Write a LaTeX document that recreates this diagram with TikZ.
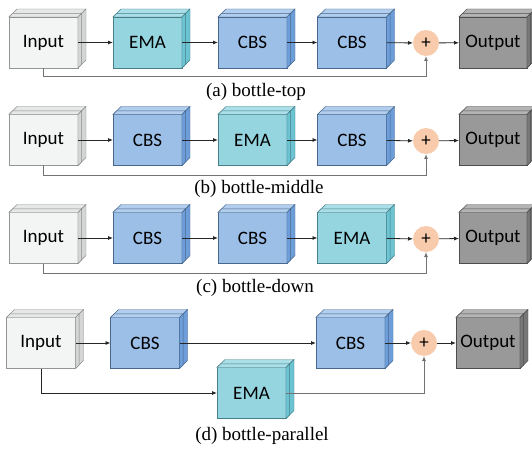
\documentclass[tikz,border=0pt]{standalone}
\usepackage{fontspec}
\setmainfont{Liberation Serif}
\newfontfamily\blkfont{Carlito}
\usetikzlibrary{calc,arrows.meta}

\definecolor{inF}{HTML}{F3F4F4}
\definecolor{inT}{HTML}{E6E8E8}
\definecolor{inS}{HTML}{D4D6D6}
\definecolor{emaF}{HTML}{94D5E0}
\definecolor{emaT}{HTML}{ABDFE8}
\definecolor{emaS}{HTML}{6CC3D1}
\definecolor{cbsF}{HTML}{9CBFE8}
\definecolor{cbsT}{HTML}{B2CEEF}
\definecolor{cbsS}{HTML}{6E9ED9}
\definecolor{outF}{HTML}{999999}
\definecolor{outT}{HTML}{B4B4B4}
\definecolor{outS}{HTML}{777777}
\definecolor{addF}{HTML}{F8CBAD}

% top and right faces of a stacked block (two slices)
\newcommand{\slab}[2]{%
  \foreach \k in {1,0.45}{
    \filldraw[fill=#2T, draw=#2S!65!black, line width=0.4pt]
      (#1.north west) -- ++({8*\k},{-8*\k}) -- ($(#1.north east)+({8*\k},{-8*\k})$)
      -- (#1.north east) -- cycle;
    \filldraw[fill=#2S, draw=#2S!65!black, line width=0.4pt]
      (#1.north east) -- ++({8*\k},{-8*\k}) -- ($(#1.south east)+({8*\k},{-8*\k})$)
      -- (#1.south east) -- cycle;
  }%
}

\begin{document}
\begin{tikzpicture}[x=1pt, y=-1pt,
  blk/.style={draw, minimum width=69, minimum height=51, inner sep=0pt, outer sep=0pt,
              line width=0.4pt, font=\blkfont\fontsize{19}{20}\selectfont},
  inp/.style={blk, fill=inF, draw=inS!70!black},
  ema/.style={blk, fill=emaF, draw=emaS!65!black},
  cbs/.style={blk, fill=cbsF, draw=cbsS!65!black},
  outp/.style={blk, fill=outF, draw=outS!65!black, minimum width=68},
  addc/.style={circle, fill=addF, minimum size=26, inner sep=0pt, outer sep=0pt,
               font=\blkfont\fontsize{19}{19}\selectfont},
  arr/.style={-{Latex[length=5pt,width=4pt]}, line width=0.8pt, black!85},
  skp/.style={arr, line width=1pt, black!55},
  capt/.style={font=\fontsize{19}{21}\selectfont}
]
\useasboundingbox (0,0) rectangle (532,449);

% ---------------- (a) top ----------------
\node[inp] (inA) at (43.5,42.5) {Input};
\node[ema] (m1A) at (147.5,42.5) {EMA};
\node[cbs] (m2A) at (252.5,42.5) {CBS};
\node[cbs] (m3A) at (352,42.5) {CBS};
\node[addc] (addA) at (426,43) {+};
\node[outp] (outA) at (493,42.5) {Output};
\slab{inA}{in} \slab{m1A}{ema} \slab{m2A}{cbs} \slab{m3A}{cbs} \slab{outA}{out}
\draw[arr] (inA) -- (m1A);
\draw[arr] (m1A) -- (m2A);
\draw[arr] (m2A) -- (m3A);
\draw[arr] (m3A) -- (addA);
\draw[arr] (addA) -- (outA);
\draw[skp] (inA.south) -- ++(0,9) -| (addA.south);
\node[capt] (capA) at (256,92) {(a) bottle-top};

% ---------------- (b) middle ----------------
\node[inp] (inB) at (43.5,140) {Input};
\node[cbs] (m1B) at (147.5,140) {CBS};
\node[ema] (m2B) at (252.5,140) {EMA};
\node[cbs] (m3B) at (352,140) {CBS};
\node[addc] (addB) at (426,141) {+};
\node[outp] (outB) at (493,140) {Output};
\slab{inB}{in} \slab{m1B}{cbs} \slab{m2B}{ema} \slab{m3B}{cbs} \slab{outB}{out}
\draw[arr] (inB) -- (m1B);
\draw[arr] (m1B) -- (m2B);
\draw[arr] (m2B) -- (m3B);
\draw[arr] (m3B) -- (addB);
\draw[arr] (addB) -- (outB);
\draw[skp] (inB.south) -- ++(0,10) -| (addB.south);
\node[capt] (capB) at (259,189) {(b) bottle-middle};

% ---------------- (c) down ----------------
\node[inp] (inC) at (43.5,238) {Input};
\node[cbs] (m1C) at (147.5,238) {CBS};
\node[cbs] (m2C) at (252.5,238) {CBS};
\node[ema] (m3C) at (352,238) {EMA};
\node[addc] (addC) at (426,239) {+};
\node[outp] (outC) at (493,238) {Output};
\slab{inC}{in} \slab{m1C}{cbs} \slab{m2C}{cbs} \slab{m3C}{ema} \slab{outC}{out}
\draw[arr] (inC) -- (m1C);
\draw[arr] (m1C) -- (m2C);
\draw[arr] (m2C) -- (m3C);
\draw[arr] (m3C) -- (addC);
\draw[arr] (addC) -- (outC);
\draw[skp] (inC.south) -- ++(0,10) -| (addC.south);
\node[capt] (capC) at (255,288) {(c) bottle-down};

% ---------------- (d) parallel ----------------
\node[inp] (inD) at (41,343) {Input};
\node[cbs] (m1D) at (145,343) {CBS};
\node[ema] (m2D) at (251.5,393) {EMA};
\node[cbs] (m3D) at (350.5,343) {CBS};
\node[addc] (addD) at (424,343) {+};
\node[outp, minimum width=64] (outD) at (488,343) {Output};
\slab{inD}{in} \slab{m1D}{cbs} \slab{m2D}{ema} \slab{m3D}{cbs} \slab{outD}{out}
\draw[arr] (inD) -- (m1D);
\draw[arr] (m1D) -- (m3D);
\draw[arr] (m3D) -- (addD);
\draw[arr] (addD) -- (outD);
\draw[arr] (inD.south) |- (m2D.west);
\draw[skp] (m2D.east) -| (addD.south);
\node[capt] (capD) at (262,436) {(d) bottle-parallel};
\end{tikzpicture}
\end{document}
